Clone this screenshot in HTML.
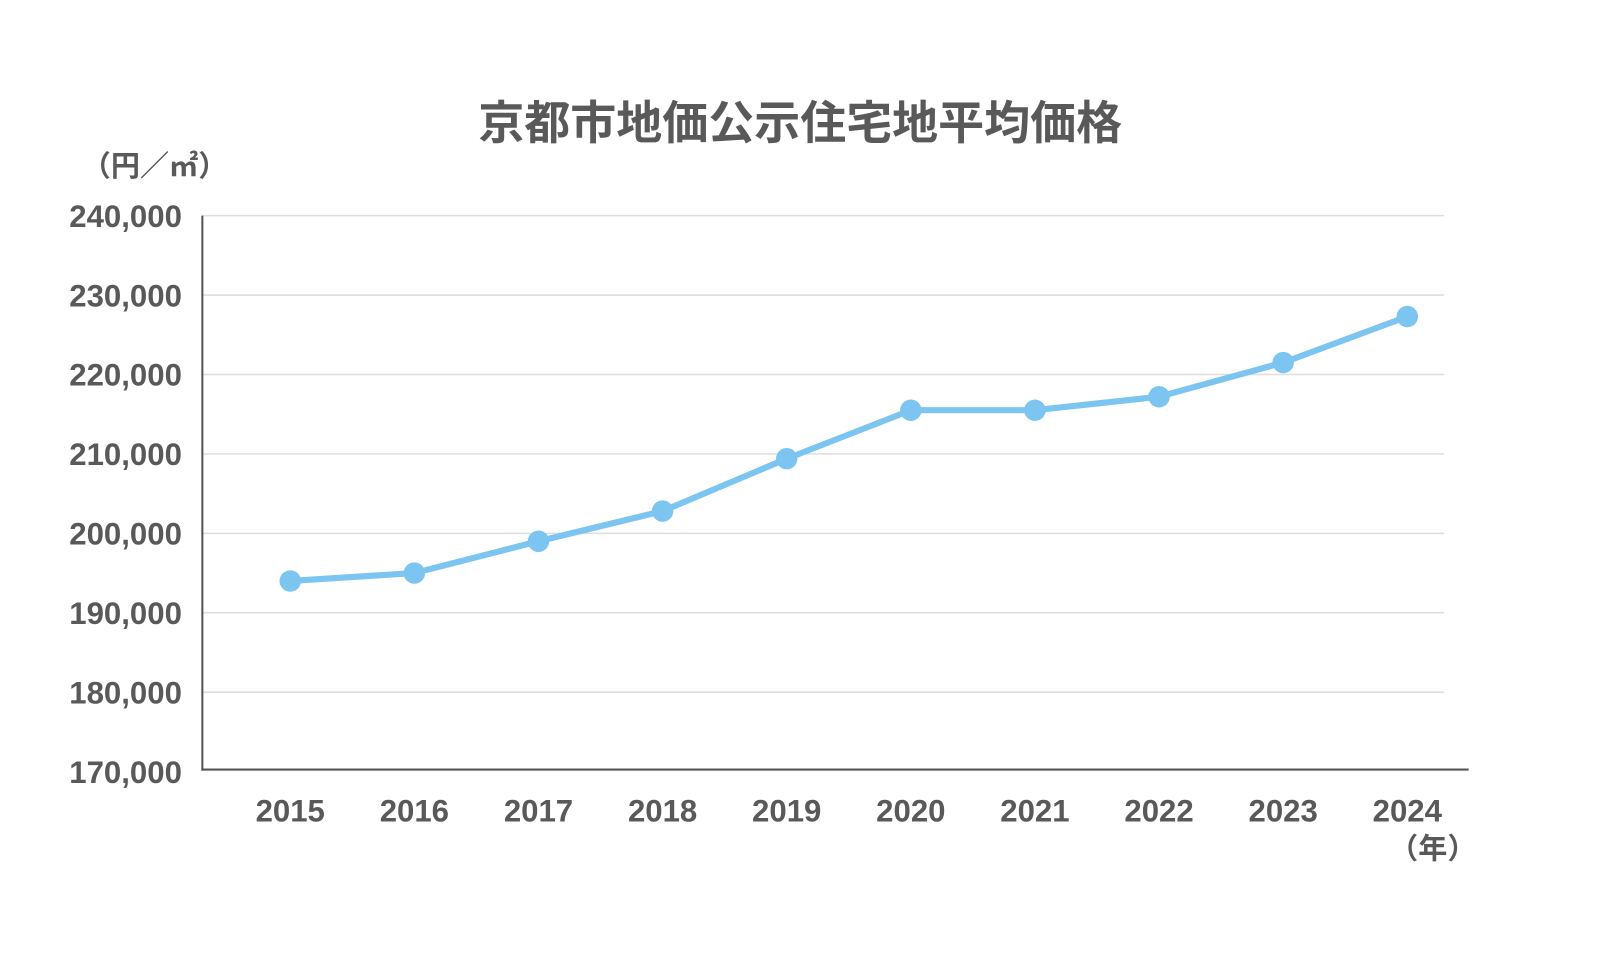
<!DOCTYPE html>
<html><head><meta charset="utf-8"><style>
html,body{margin:0;padding:0;background:#fff;}
svg text{font-family:"Liberation Sans","Noto Sans CJK JP",sans-serif;fill:#595959;font-weight:bold;}
</style></head><body>
<svg id="chart" width="1601" height="970" xmlns="http://www.w3.org/2000/svg">
<g transform="scale(1.022)">
<text x="783" y="136" font-size="45" text-anchor="middle">京都市地価公示住宅地平均価格</text>
<text x="80" y="172" font-size="28.5">（円／㎡）</text>
<text x="1402" y="840" font-size="28.5" text-anchor="middle">（年）</text>
<g id="grid"></g><g id="axes"></g><g id="series"></g>
</g>
</svg>
<script>
const years=["2015","2016","2017","2018","2019","2020","2021","2022","2023","2024"];
const prices=[194000,195000,199000,202800,209400,215500,215500,217200,221500,227300];
const yTicks=[170000,180000,190000,200000,210000,220000,230000,240000];
const yTickLabels=["170,000","180,000","190,000","200,000","210,000","220,000","230,000","240,000"];
const NS="http://www.w3.org/2000/svg";
function yScale(v){return 755-(v-170000)/70000*544;}
function xScale(i){return 284+i*(1377-284)/(years.length-1);}
function mk(t,a,p){const e=document.createElementNS(NS,t);for(const k in a)e.setAttribute(k,a[k]);p.appendChild(e);return e;}
const grid=document.getElementById('grid'),axes=document.getElementById('axes'),series=document.getElementById('series');
yTicks.forEach((v,i)=>{
 const y=yScale(v);
 if(i>0){const g=mk('line',{x1:198,x2:1413,y1:y,y2:y,stroke:'#dedede','stroke-width':1.5},grid);
 }
 const t=mk('text',{x:178,y:y+11,'font-size':30.5,'text-anchor':'end'},axes);t.textContent=yTickLabels[i];
 
});
const ya=mk('line',{x1:198,x2:198,y1:211,y2:754,stroke:'#555','stroke-width':2},axes);

const xa=mk('line',{x1:197,x2:1437,y1:753,y2:753,stroke:'#555','stroke-width':2},axes);

years.forEach((yr,i)=>{const t=mk('text',{x:xScale(i),y:804,'font-size':30.5,'text-anchor':'middle'},axes);t.textContent=yr;
 });
const pl=mk('polyline',{points:prices.map((v,i)=>xScale(i)+','+yScale(v)).join(' '),fill:'none',stroke:'#7cc5f0','stroke-width':6,'stroke-linejoin':'round'},series);

prices.forEach((v,i)=>{const c=mk('circle',{cx:xScale(i),cy:yScale(v),r:10.5,fill:'#7cc5f0'},series);
 });
</script>
</body></html>
